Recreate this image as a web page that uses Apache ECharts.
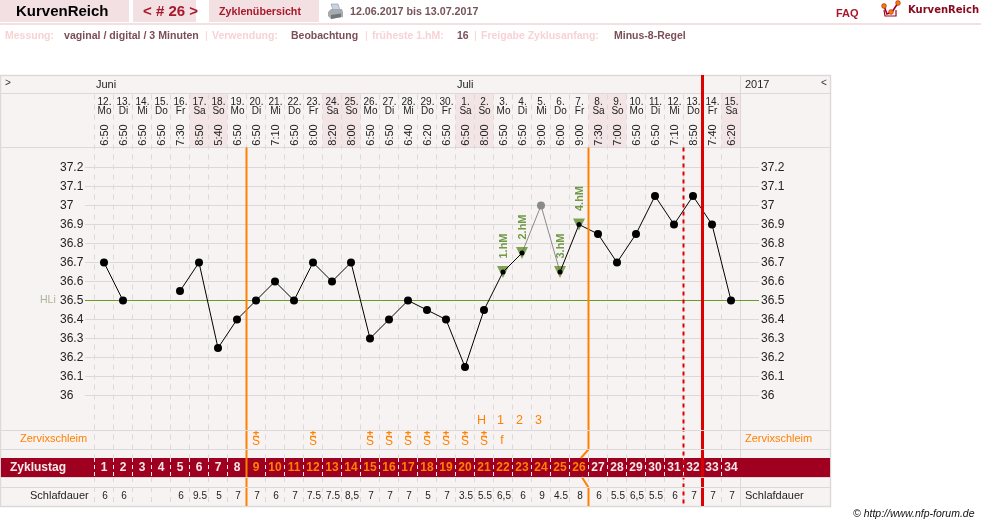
<!DOCTYPE html>
<html><head><meta charset="utf-8">
<style>html,body{margin:0;padding:0;background:#fff}#c{width:981px;height:526px}</style>
<script src="https://cdn.jsdelivr.net/npm/echarts@6/dist/echarts.min.js"></script>
</head><body><div id="c"></div>
<script>
// Cycle chart: one column per cycle day
const cycleDays = [1,2,3,4,5,6,7,8,9,10,11,12,13,14,15,16,17,18,19,20,21,22,23,24,25,26,27,28,29,30,31,32,33,34];
const dates = ['12.','13.','14.','15.','16.','17.','18.','19.','20.','21.','22.','23.','24.','25.','26.','27.','28.','29.','30.','1.','2.','3.','4.','5.','6.','7.','8.','9.','10.','11.','12.','13.','14.','15.'];
const weekdays = ['Mo','Di','Mi','Do','Fr','Sa','So','Mo','Di','Mi','Do','Fr','Sa','So','Mo','Di','Mi','Do','Fr','Sa','So','Mo','Di','Mi','Do','Fr','Sa','So','Mo','Di','Mi','Do','Fr','Sa'];
const times = ['6:50','6:50','6:50','6:50','7:30','8:50','5:40','6:50','6:50','7:10','6:50','8:00','8:20','8:00','6:50','6:50','6:40','6:20','6:50','6:50','8:00','6:50','6:50','9:00','6:00','9:00','7:30','7:00','6:50','6:50','7:10','8:50','7:40','6:20'];
const temperatures = [36.7,36.5,null,null,36.55,36.7,36.25,36.4,36.5,36.6,36.5,36.7,36.6,36.7,36.3,36.4,36.5,36.45,36.4,36.15,36.45,36.65,36.75,null,36.65,36.9,36.85,36.7,36.85,37.05,36.9,37.05,36.9,36.5];
const excludedTemperature = [24, 37.0];
const riseDays = [[22,36.65,'1.hM'],[23,36.75,'2.hM'],[25,36.65,'3.hM'],[26,36.9,'4.hM']];
const coverLine = 36.5;
const sleepHours = ['6','6','','','6','9.5','5','7','7','6','7','7.5','7.5','8,5','7','7','7','5','7','3.5','5.5','6,5','6','9','4.5','8','6','5.5','6,5','5.5','6','7','7','7'];
const mucusPlusDays = [9,12,15,16,17,18,19,20,21];
const mucusFertileDay = [22,'f'];
const peakMarks = [[21,'H'],[22,'1'],[23,'2'],[24,'3']];
const orangeFromDay = 9, orangeToDay = 26;
const months = [[1,'Juni'],[20,'Juli']];
const tempTicks = [36,36.1,36.2,36.3,36.4,36.5,36.6,36.7,36.8,36.9,37,37.1,37.2];

// Page-pixel rows of the table around the temperature plot
const ROW = {top:75, month:85, head:93.5, date:102, wday:111, time:135, plotTop:147.5, peak:421, mucusTop:430.5, mucus:439, mucusBottom:449.5, bandTop:458, band:467.5, bandBottom:477, sleepTop:487.5, sleep:496, bottom:506};
const FONT = '"Liberation Sans",Arial,sans-serif';
const LINE = '#dcdad9', ORANGE = '#ff8000', RED = '#dd0000', CRIMSON = '#a0001f';
const COL = 19, X0 = 85, PANEL = 831, PLOT_WIDTH = 674;
const panelMin = (0 - X0) / COL, panelMax = (PANEL - X0) / COL, plotMax = PLOT_WIDTH / COL;

function txt(api, d, y, text, o) {
  const p = api.coord([d, y]);
  return {type:'text', x:p[0] + (o.dx||0), y:p[1], rotation:o.rot||0, style:{text, x:0, y:0, align:o.align||'center', verticalAlign:'middle', fill:o.color||'#222', font:(o.weight||'normal')+' '+(o.size||10)+'px '+FONT}};
}
function seg(api, d1, y1, d2, y2, stroke, width, dash) {
  const a = api.coord([d1,y1]), b = api.coord([d2,y2]);
  return {type:'line', shape:{x1:a[0],y1:a[1],x2:b[0],y2:b[1]}, style:{stroke, lineWidth:width, lineDash:dash||null}};
}
// One custom series on the table grid
function table(z, items) {
  return {type:'custom', xAxisIndex:0, yAxisIndex:0, z, silent:true, clip:false, data:[0],
    renderItem:(p, api) => ({type:'group', children:items(api)})};
}

const tableSeries = [
  table(1, api => cycleDays.flatMap((d,i) => (weekdays[i]==='Sa'||weekdays[i]==='So') ? [(() => {
    const a = api.coord([d-0.5, ROW.head+0.5]), b = api.coord([d+0.5, ROW.plotTop-0.5]);
    return {type:'rect', shape:{x:a[0],y:a[1],width:b[0]-a[0],height:b[1]-a[1]}, style:{fill:'#f3e4e6'}};
  })()] : [])),
  table(1, api => [
    seg(api, panelMin, ROW.head, panelMax, ROW.head, LINE, 1),
    seg(api, panelMin, ROW.plotTop, panelMax, ROW.plotTop, LINE, 1),
    seg(api, 34.5, ROW.top, 34.5, ROW.bottom, LINE, 1)
  ]),
  table(1, api => { const a = api.coord([panelMin+0.05, ROW.bandTop]), b = api.coord([panelMax-0.05, ROW.bandBottom]);
    return [{type:'rect', shape:{x:a[0],y:a[1],width:b[0]-a[0],height:b[1]-a[1]}, style:{fill:CRIMSON}}]; }),
  table(2, api => cycleDays.flatMap(d => [
    seg(api, d-0.5, ROW.head+1, d-0.5, ROW.bandTop, LINE, 1, [5,5]),
    seg(api, d-0.5, ROW.bandTop, d-0.5, ROW.bandBottom, '#f8e8ea', 1, [4,3]),
    seg(api, d-0.5, ROW.bandBottom, d-0.5, ROW.bottom, LINE, 1, [5,5])
  ])),
  // header text
  table(6, api => months.map(m => txt(api, m[0]-0.5, ROW.month, m[1], {align:'left', size:11, dx:1.5}))),
  table(6, api => cycleDays.flatMap((d,i) => [
    txt(api, d, ROW.date, dates[i], {size:10, dx:0.5}),
    txt(api, d, ROW.wday, weekdays[i], {size:10, dx:0.5}),
    txt(api, d, ROW.time, times[i], {size:11, rot:Math.PI/2, dx:0.5})
  ])),
  // mucus and peak rows
  table(6, api => peakMarks.map(m => txt(api, m[0], ROW.peak, m[1], {color:ORANGE, size:12.5, dx:-2.5}))),
  table(6, api => mucusPlusDays.flatMap(d => [
    txt(api, d, ROW.mucus-5, '±', {color:ORANGE, size:11, weight:'bold'}),
    txt(api, d, ROW.mucus+3, 'S', {color:ORANGE, size:12})
  ]).concat([txt(api, mucusFertileDay[0], ROW.mucus+2, mucusFertileDay[1], {color:ORANGE, size:12, dx:-1})])),
  // cycle-day numbers and sleep hours
  table(6, api => cycleDays.map(d => txt(api, d, ROW.band, String(d), {color:(d>=orangeFromDay&&d<=orangeToDay)?ORANGE:'#f4e8e8', weight:'bold', size:12}))),
  table(6, api => cycleDays.map((d,i) => txt(api, d, ROW.sleep, sleepHours[i], {size:10, dx:1}))),
  // phase boundaries
  table(8, api => [
    seg(api, 8.5, ROW.plotTop, 8.5, ROW.bottom, ORANGE, 2),
    seg(api, 26.5, ROW.plotTop, 26.5, ROW.mucusBottom, ORANGE, 2),
    seg(api, 26.5, ROW.mucusBottom, 26.1, ROW.bandTop, ORANGE, 2),
    seg(api, 26.15, ROW.bandBottom, 26.5, ROW.sleepTop, ORANGE, 2),
    seg(api, 26.5, ROW.sleepTop, 26.5, ROW.bottom, ORANGE, 2),
    seg(api, 31.5, ROW.plotTop, 31.5, ROW.bottom, RED, 2, [4,4]),
    seg(api, 32.5, ROW.top, 32.5, ROW.bottom, RED, 3)
  ]),
  // rules that cut across the boundaries
  table(9, api => [ROW.mucusTop, ROW.mucusBottom, ROW.bandBottom+0.5, ROW.sleepTop].map(y => seg(api, panelMin, y, panelMax, y, LINE, 1)))
];

const plotSeries = [
  // one rule per temperature tick
  {type:'custom', xAxisIndex:1, yAxisIndex:1, z:2, silent:true, clip:false, data:[0],
   renderItem:(p, api) => ({type:'group', children:tempTicks.map(t => seg(api, 0, t, plotMax, t, LINE, 1))})},
  {type:'line', xAxisIndex:1, yAxisIndex:1, z:3, silent:true, symbol:'none', lineStyle:{color:'#689a28', width:1},
   data:[[0,coverLine],[plotMax,coverLine]]},
  {type:'line', xAxisIndex:1, yAxisIndex:1, z:4, silent:true, symbol:'circle', symbolSize:8, itemStyle:{color:'#8a8a8a'}, lineStyle:{color:'#8a8a8a', width:1},
   data:[[23,temperatures[22]],excludedTemperature,[25,temperatures[24]]].map((p,i) => i===1 ? {value:p} : {value:p, symbolSize:0})},
  {type:'scatter', xAxisIndex:1, yAxisIndex:1, z:5, silent:true, symbol:'triangle', symbolRotate:180, symbolSize:[12,12], itemStyle:{color:'#5f8c2c'},
   data:riseDays.map(r => [r[0], r[1]])},
  {type:'line', xAxisIndex:1, yAxisIndex:1, z:6, silent:true, symbol:'circle', symbolSize:8, connectNulls:false,
   itemStyle:{color:'#000'}, lineStyle:{color:'#000', width:1},
   data:cycleDays.map((d,i) => {
     const isRise = riseDays.some(r => r[0]===d);
     return {value:[d, temperatures[i]===null ? '-' : temperatures[i]], symbolSize:isRise?5:8};
   })},
  {type:'custom', xAxisIndex:1, yAxisIndex:1, z:7, silent:true, clip:false, data:riseDays.map(r => [r[0], r[1]]),
   renderItem:(p, api) => {
     const i = p.dataIndex, c = api.coord([riseDays[i][0], riseDays[i][1]]);
     return {type:'text', x:c[0]+1, y:c[1]-26, rotation:Math.PI/2, style:{text:riseDays[i][2], x:0, y:0, align:'center', verticalAlign:'middle', fill:'#6f9a48', font:'bold 11px '+FONT}};
   }}
];

// Page furniture above and below the table
const gt = (text, x, y, fill, font, align) => ({type:'text', x, y, z:20, style:{text, x:0, y:0, fill, font:font+' '+FONT, align:align||'left', verticalAlign:'middle'}});
const gr = (x, y, width, height, fill) => ({type:'rect', x, y, z:19, shape:{width, height}, style:{fill}});
const PINK = '#f3e0e3', SOFT = '#f7d3d5', DUSK = '#7b4f56';
const furniture = [
  // table panel
  {type:'rect', x:0.5, y:ROW.top+0.5, z:-5, shape:{width:PANEL-1, height:ROW.bottom-ROW.top}, style:{fill:'#f8f3f3', stroke:LINE, lineWidth:1.5}},
  gr(0,0,129,22,PINK), gr(133,0,63,22,PINK), gr(209,0,110,22,PINK), gr(0,23,981,2,PINK),
  gt('KurvenReich',16,12,'#000','bold 15px'),
  gt('< # 26 >',143,12,'#a8182a','bold 15px'),
  gt('Zyklenübersicht',219,12,'#a8182a','bold 10.7px'),
  gt('12.06.2017 bis 13.07.2017',350,12,'#75545a','bold 10.7px'),
  gt('FAQ',836,14,'#a8182a','bold 11px'),
  gt('KurvenReich',908,10,'#8a0a20','bold 10px "DejaVu Sans",'),
  gt('Messung:',5,36,SOFT,'bold 10.5px'),
  gt('vaginal / digital / 3 Minuten',64,36,DUSK,'bold 10.6px'),
  gt('|',205,36,SOFT,'10.5px'),
  gt('Verwendung:',212,36,SOFT,'bold 10.5px'),
  gt('Beobachtung',291,36,DUSK,'bold 10.5px'),
  gt('|',365,36,SOFT,'10.5px'),
  gt('früheste 1.hM:',372,36,SOFT,'bold 10.5px'),
  gt('16',457,36,DUSK,'bold 10.5px'),
  gt('|',474,36,SOFT,'10.5px'),
  gt('Freigabe Zyklusanfang:',481,36,SOFT,'bold 10.5px'),
  gt('Minus-8-Regel',614,36,DUSK,'bold 10.5px'),
  gt('>',5,83,'#333','10px'),
  gt('<',821,83,'#333','10px'),
  gt('2017',745,85,'#222','11px'),
  gt('Zervixschleim',20,439,ORANGE,'11px'),
  gt('Zervixschleim',745,439,ORANGE,'11px'),
  gt('Zyklustag',10,468,'#f6ecec','bold 12px'),
  gt('Schlafdauer',30,496,'#222','11px'),
  gt('Schlafdauer',745,496,'#222','11px'),
  gt('HLi',40,300,'#a9b59c','10.5px'),
  gt('© http://www.nfp-forum.de',853,514,'#111','italic 10.5px'),
  // printer icon
  {type:'group', x:328, y:4, z:20, children:[
    {type:'polygon', shape:{points:[[3,0],[10,0],[12,6],[5,6]]}, style:{fill:'#c8d4e4', stroke:'#8a94a0', lineWidth:0.6}},
    {type:'polygon', shape:{points:[[0,8],[3,5],[14,5],[15,8],[15,13],[3,15],[0,12]]}, style:{fill:'#a6abb0'}},
    {type:'polygon', shape:{points:[[3,11],[13,9.5],[13,13],[3,15]]}, style:{fill:'#70767c'}}
  ]},
  // logo mark
  {type:'group', x:881, y:1, z:20, children:[
    {type:'polyline', shape:{points:[[3,5],[6,13],[11,11],[17,2]]}, style:{stroke:'#a0001f', fill:null, lineWidth:1.6}},
    {type:'polyline', shape:{points:[[3,9],[4,15],[15,15],[15,9]]}, style:{stroke:'#a0001f', fill:null, lineWidth:1.2}},
    {type:'circle', shape:{cx:3,cy:5,r:2.4}, style:{fill:'#f08000',stroke:'#a0001f',lineWidth:0.5}},
    {type:'circle', shape:{cx:10,cy:11,r:2.4}, style:{fill:'#f08000',stroke:'#a0001f',lineWidth:0.5}},
    {type:'circle', shape:{cx:17,cy:2,r:2.4}, style:{fill:'#f08000',stroke:'#a0001f',lineWidth:0.5}}
  ]}
];

const tickLabel = v => String(+v.toFixed(1));
const tempAxis = (position, margin, align) => ({
  type:'value', gridIndex:1, position, min:36, max:37.2, interval:0.1,
  axisLine:{show:false}, axisTick:{show:false},
  axisLabel:{margin, align, color:'#222', fontFamily:FONT, fontSize:12, formatter:tickLabel},
  splitLine:{show:false}
});

const chart = echarts.init(document.getElementById('c'), null, {renderer:'canvas'});
chart.setOption({
  animation:false,
  backgroundColor:'#fff',
  grid:[
    {left:0, top:ROW.top, width:PANEL, height:ROW.bottom-ROW.top, show:false},
    {left:X0, top:167.5, width:PLOT_WIDTH, height:228, show:false}
  ],
  xAxis:[
    {type:'value', gridIndex:0, min:panelMin, max:panelMax, show:false},
    {type:'value', gridIndex:1, min:0, max:plotMax, show:false}
  ],
  yAxis:[
    {type:'value', gridIndex:0, inverse:true, min:ROW.top, max:ROW.bottom, show:false},
    tempAxis('left',25,'left'),
    tempAxis('right',2,'left')
  ],
  series:tableSeries.concat(plotSeries),
  graphic:{elements:furniture}
});
</script></body></html>
